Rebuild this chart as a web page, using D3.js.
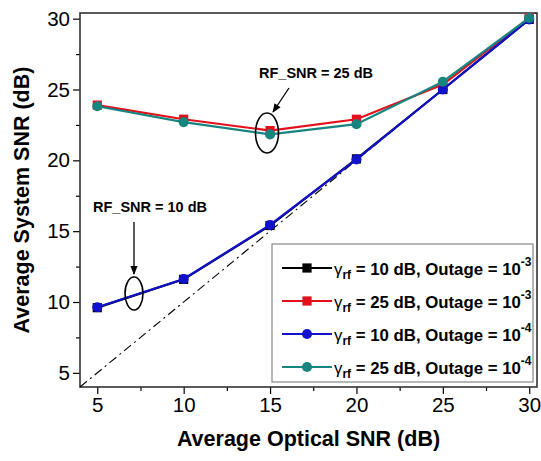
<!DOCTYPE html>
<html>
<head>
<meta charset="utf-8">
<script src="https://cdn.jsdelivr.net/npm/d3@7"></script>
<style>
  body { margin:0; background:#fff; }
  svg text { font-family: "Liberation Sans", Arial, sans-serif; }
</style>
</head>
<body>
<svg id="chart" width="541" height="461"></svg>
<script>
// valores
const snrOptico = [5, 10, 15, 20, 25, 30];
const negro10_3 = [9.6, 11.6, 15.4, 20.1, 25.0, 29.95];
const rojo25_3  = [23.9, 22.9, 22.1, 22.9, 25.35, 30.05];
const azul10_4  = [9.63, 11.62, 15.44, 20.07, 25.0, 29.95];
const teal25_4  = [23.82, 22.7, 21.83, 22.55, 25.55, 30.05];
const xTicks = [5, 10, 15, 20, 25, 30];
const yTicks = [5, 10, 15, 20, 25, 30];

const series = [
  {rf:'10', out:'-3', vals:negro10_3, color:'#000000', sym:'square'},
  {rf:'25', out:'-3', vals:rojo25_3,  color:'#e3101c', sym:'square'},
  {rf:'10', out:'-4', vals:azul10_4,  color:'#1212cc', sym:'circle'},
  {rf:'25', out:'-4', vals:teal25_4,  color:'#17857f', sym:'circle'}
];

const svg = d3.select('#chart');
const L = 80, R = 537, T = 13, B = 387;
const x = d3.scaleLinear().domain([4, 30.45]).range([L, R]);
const y = d3.scaleLinear().domain([4, 30.4]).range([B, T]);

// ejes con ticks menores
const minor = d3.range(7.5, 30, 5);
svg.append('g').attr('transform',`translate(0,${B})`)
  .call(d3.axisBottom(x).tickValues(minor).tickSize(4).tickFormat(''))
  .call(g=>g.select('.domain').remove());
svg.append('g').attr('transform',`translate(${L},0)`)
  .call(d3.axisLeft(y).tickValues(minor).tickSize(4).tickFormat(''))
  .call(g=>g.select('.domain').remove());
const ax = svg.append('g').attr('transform',`translate(0,${B})`)
  .call(d3.axisBottom(x).tickValues(xTicks).tickSize(7).tickPadding(3))
  .call(g=>g.select('.domain').remove());
ax.selectAll('text').style('font-size','20.5px').attr('fill','#000');
const ay = svg.append('g').attr('transform',`translate(${L},0)`)
  .call(d3.axisLeft(y).tickValues(yTicks).tickSize(7).tickPadding(3))
  .call(g=>g.select('.domain').remove());
ay.selectAll('text').style('font-size','20.5px').attr('fill','#000');
svg.selectAll('.tick line').attr('stroke','#000').attr('stroke-width',1.2);

svg.append('rect').attr('x',L).attr('y',T).attr('width',R-L).attr('height',B-T)
  .attr('fill','none').attr('stroke','#333').attr('stroke-width',1.6);

// línea de referencia y = x
svg.append('line')
  .attr('x1',x(4)).attr('y1',y(4)).attr('x2',x(30.4)).attr('y2',y(30.4))
  .attr('stroke','#000').attr('stroke-width',1.1).attr('stroke-dasharray','9,4,2,4');

const line = d3.line().x((d,i)=>x(snrOptico[i])).y(d=>y(d));
series.forEach(s=>{
  svg.append('path').datum(s.vals).attr('d',line)
    .attr('fill','none').attr('stroke',s.color).attr('stroke-width',2.2);
  const sym = d3.symbol().type(s.sym==='square'?d3.symbolSquare:d3.symbolCircle)
    .size(s.sym==='square'?85:80);
  svg.selectAll(null).data(s.vals).enter().append('path')
    .attr('d',sym)
    .attr('transform',(d,i)=>`translate(${x(snrOptico[i])},${y(d)})`)
    .attr('fill',s.color);
});

// anotaciones
svg.append('defs').append('marker').attr('id','flecha')
  .attr('viewBox','0 0 10 10').attr('refX',9).attr('refY',5)
  .attr('markerWidth',7).attr('markerHeight',7).attr('orient','auto')
  .append('path').attr('d','M0,1 L10,5 L0,9 Z').attr('fill','#000');

svg.append('text').attr('x',316).attr('y',78).attr('text-anchor','middle')
  .style('font-size','14.5px').style('font-weight','bold').text('RF_SNR = 25 dB');
svg.append('line').attr('x1',289).attr('y1',88).attr('x2',273).attr('y2',112)
  .attr('stroke','#000').attr('stroke-width',1.3).attr('marker-end','url(#flecha)');
svg.append('ellipse').attr('cx',267).attr('cy',133).attr('rx',11.5).attr('ry',20)
  .attr('fill','none').attr('stroke','#000').attr('stroke-width',1.6);

svg.append('text').attr('x',150).attr('y',212).attr('text-anchor','middle')
  .style('font-size','14.5px').style('font-weight','bold').text('RF_SNR = 10 dB');
svg.append('line').attr('x1',134).attr('y1',222).attr('x2',134).attr('y2',274)
  .attr('stroke','#000').attr('stroke-width',1.3).attr('marker-end','url(#flecha)');
svg.append('ellipse').attr('cx',134).attr('cy',293.5).attr('rx',9).attr('ry',16.5)
  .attr('fill','none').attr('stroke','#000').attr('stroke-width',1.6);

// leyenda
const lg = svg.append('g');
lg.append('rect').attr('x',272).attr('y',244).attr('width',261).attr('height',138)
  .attr('fill','#fff').attr('stroke','#888').attr('stroke-width',1.2);
series.forEach((s,i)=>{
  const yy = 268 + i*33;
  lg.append('line').attr('x1',282).attr('x2',332).attr('y1',yy).attr('y2',yy)
    .attr('stroke',s.color).attr('stroke-width',2.2);
  const sym = d3.symbol().type(s.sym==='square'?d3.symbolSquare:d3.symbolCircle)
    .size(s.sym==='square'?85:80);
  lg.append('path').attr('d',sym).attr('transform',`translate(307,${yy})`).attr('fill',s.color);
  const t = lg.append('text').attr('x',334).attr('y',yy+7)
    .style('font-size','16.8px').style('font-weight','bold');
  t.append('tspan').text('γ').style('font-weight','normal');
  t.append('tspan').attr('dy',4).style('font-size','12px').text('rf');
  t.append('tspan').attr('dy',-4).text(` = ${s.rf} dB, Outage = 10`);
  t.append('tspan').attr('dy',-9).style('font-size','12px').text(s.out);
});

// títulos de ejes
svg.append('text').attr('x',(L+R)/2).attr('y',446).attr('text-anchor','middle')
  .style('font-size','21.5px').style('font-weight','bold').text('Average Optical SNR (dB)');
svg.append('text').attr('transform',`translate(29,${(T+B)/2}) rotate(-90)`)
  .attr('text-anchor','middle')
  .style('font-size','21.5px').style('font-weight','bold').text('Average System SNR (dB)');
</script>
</body>
</html>
